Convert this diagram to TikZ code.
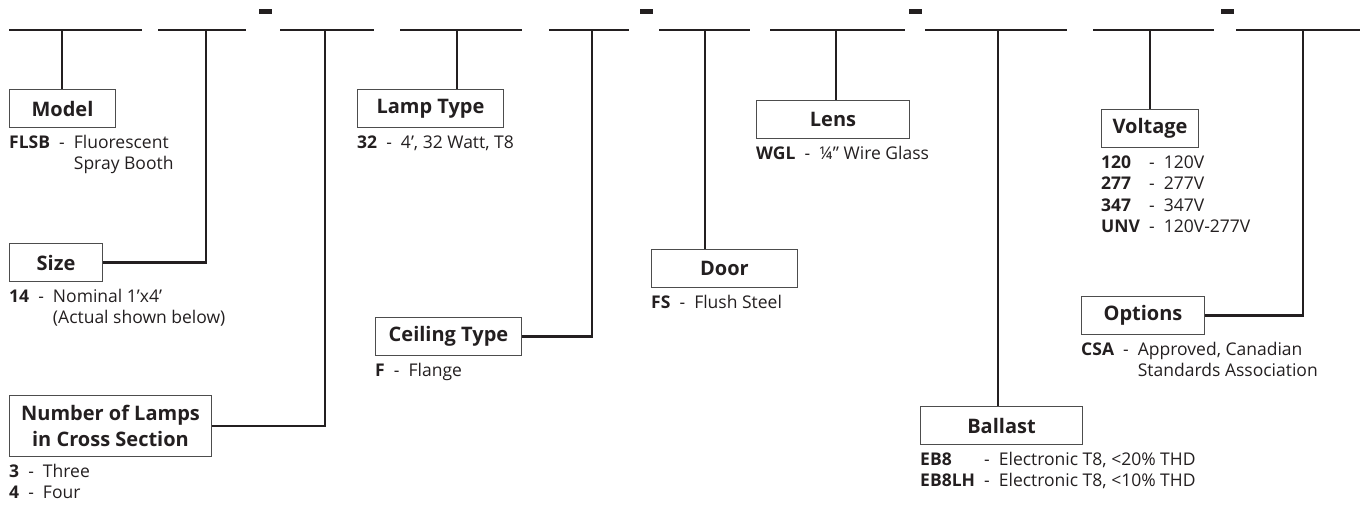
\documentclass[tikz,border=0pt]{standalone}
\usepackage{fontspec}
\setmainfont{Open Sans}
\usepackage{xcolor}
\usepackage{tikz}
\usetikzlibrary{positioning}
\definecolor{ink}{HTML}{231F20}
\definecolor{frame}{HTML}{4D4D4D}
\newcommand{\codelist}[1]{\begin{tabular}{@{}l@{\ \ }c@{\ \ }l@{}}#1\end{tabular}}

\begin{document}
\begin{tikzpicture}[x=1pt, y=-1pt,
    wire/.style={draw=ink, line width=2.5pt},
    field/.style={draw=frame, line width=1pt, rectangle, minimum height=38pt, inner sep=0pt, anchor=north west, align=center, text=ink, font=\fontsize{20}{26}\selectfont\bfseries},
    desc/.style={inner sep=0pt, text=ink, font=\fontsize{17.5}{21.5}\selectfont},
]
    \useasboundingbox (0,0) rectangle (1360,504);

    % blanks of the catalogue number
    \foreach \a/\b in {9/142, 158/246, 280/374, 400/522, 549/629, 659/750, 770/905, 925/1067, 1093/1214, 1236/1360}
        \draw[wire] (\a,30) -- (\b,30);
    \foreach \x in {259, 640, 909, 1221}
        \fill[ink] (\x,9) rectangle ++(13,5);
    \foreach \n/\x in {1/62, 2/206, 3/325, 4/457, 5/592, 6/705, 7/836, 8/998, 9/1150, 10/1303}
        \coordinate (t\n) at (\x,30);

    \node[field, minimum width=106pt] (model) at (9,89) {Model};
    \node[field, minimum width=93pt] (size) at (9,243) {Size};
    \node[field, minimum width=202pt, minimum height=61pt] (lamps) at (9,395) {Number of Lamps\\in Cross Section};
    \node[field, minimum width=146pt] (lamptype) at (357,89) {Lamp Type};
    \node[field, minimum width=146pt] (ceiling) at (375,317) {Ceiling Type};
    \node[field, minimum width=146pt] (door) at (651,249) {Door};
    \node[field, minimum width=153pt] (lens) at (756,100) {Lens};
    \node[field, minimum width=162pt] (ballast) at (920,406) {Ballast};
    \node[field, minimum width=97pt] (voltage) at (1101,109) {Voltage};
    \node[field, minimum width=123pt] (options) at (1081,296) {Options};

    \node[desc, below right=5pt and 0pt of model.south west] (modeldesc) {\codelist{\textbf{FLSB} & - & Fluorescent\\ & & Spray Booth}};
    \node[desc, below right=5pt and 0pt of size.south west] (sizedesc) {\codelist{\textbf{14} & - & Nominal 1’x4’\\ & & (Actual shown below)}};
    \node[desc, below right=5pt and 0pt of lamps.south west] (lampsdesc) {\codelist{\textbf{3} & - & Three\\ \textbf{4} & - & Four}};
    \node[desc, below right=5pt and 0pt of lamptype.south west] (lamptypedesc) {\codelist{\textbf{32} & - & 4’, 32 Watt, T8}};
    \node[desc, below right=5pt and 0pt of ceiling.south west] (ceilingdesc) {\codelist{\textbf{F} & - & Flange}};
    \node[desc, below right=5pt and 0pt of door.south west] (doordesc) {\codelist{\textbf{FS} & - & Flush Steel}};
    \node[desc, below right=5pt and 0pt of lens.south west] (lensdesc) {\codelist{\textbf{WGL} & - & ¼” Wire Glass}};
    \node[desc, below right=5pt and 0pt of ballast.south west] (ballastdesc) {\codelist{\textbf{EB8} & - & Electronic T8, <20\% THD\\ \textbf{EB8LH} & - & Electronic T8, <10\% THD}};
    \node[desc, below right=5pt and 0pt of voltage.south west] (voltagedesc) {\codelist{\textbf{120} & - & 120V\\ \textbf{277} & - & 277V\\ \textbf{347} & - & 347V\\ \textbf{UNV} & - & 120V-277V}};
    \node[desc, below right=5pt and 0pt of options.south west] (optionsdesc) {\codelist{\textbf{CSA} & - & Approved, Canadian\\ & & Standards Association}};

    \draw[wire] (t1) -- (t1 |- model.north);
    \draw[wire] (t2) |- (size.east);
    \draw[wire] (t3) |- (lamps.east);
    \draw[wire] (t4) -- (t4 |- lamptype.north);
    \draw[wire] (t5) |- (ceiling.east);
    \draw[wire] (t6) -- (t6 |- door.north);
    \draw[wire] (t7) -- (t7 |- lens.north);
    \draw[wire] (t8) -- (t8 |- ballast.north);
    \draw[wire] (t9) -- (t9 |- voltage.north);
    \draw[wire] (t10) |- (options.east);
\end{tikzpicture}
\end{document}
